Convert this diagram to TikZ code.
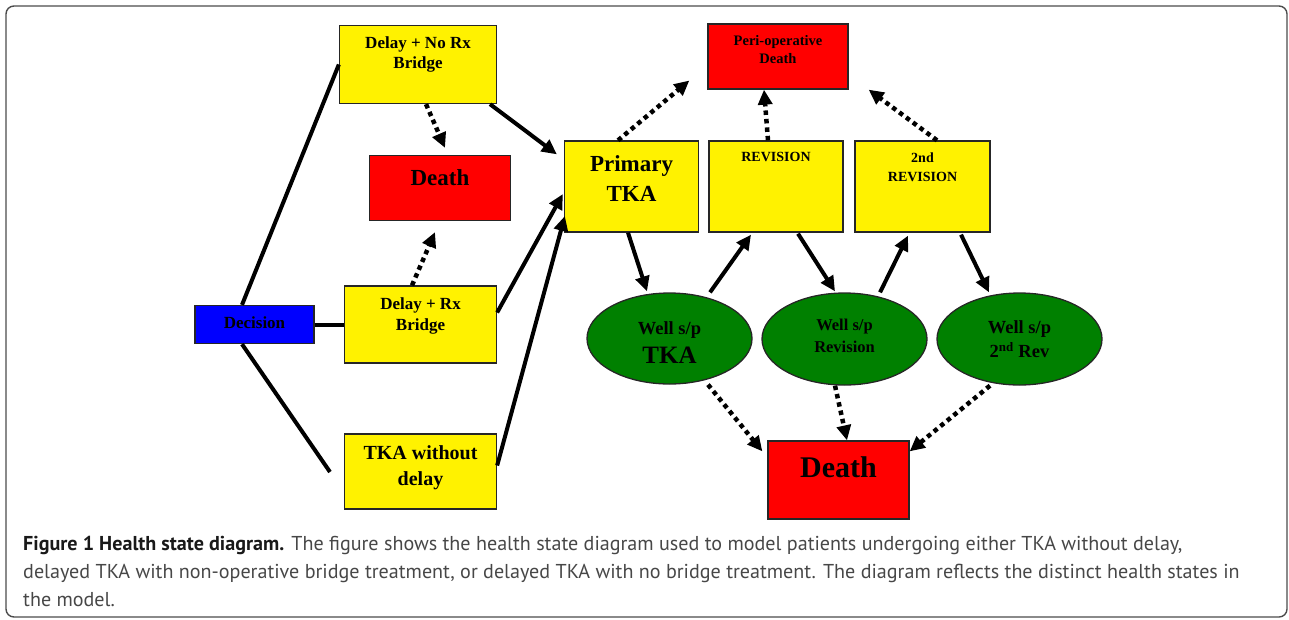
\documentclass[tikz,border=0pt]{standalone}
\usepackage{fontspec}
\setmainfont{Liberation Serif}
\newfontfamily\capfont{PT Sans}
\usetikzlibrary{arrows.meta,shapes.geometric}
\tikzset{
  box/.style={draw=black!85, line width=1.3pt, inner sep=0pt, rectangle},
  ybox/.style={box, fill=yellow},
  rbox/.style={box, fill=red},
  bbox/.style={box, fill=blue},
  gell/.style={draw=black!85, line width=1.3pt, fill=green!50!black, ellipse, inner sep=0pt},
  lbl/.style={font=\bfseries, align=center, inner sep=0pt},
  sarrow/.style={line width=4pt, -{Triangle[length=15pt,width=14pt]}},
  sline/.style={line width=4pt},
  darrow/.style={line width=4.5pt, dash pattern=on 4.5pt off 4pt, -{Triangle[length=15pt,width=14pt]}},
}
\begin{document}
\begin{tikzpicture}[x=1pt,y=-1pt]
\useasboundingbox (0,0) rectangle (1289,619);
% frame
\draw[rounded corners=8pt, line width=1.4pt, draw=black!70] (6,6) rectangle (1287,617);
% nodes
\node[ybox, minimum width=157pt, minimum height=78pt] (dnr) at (418,64.5) {};
\node[rbox, minimum width=141pt, minimum height=65pt] (d1) at (440,188) {};
\node[bbox, minimum width=119pt, minimum height=38pt] (dec) at (254.5,324.5) {};
\node[ybox, minimum width=152pt, minimum height=77pt] (drx) at (420.5,324.5) {};
\node[ybox, minimum width=152pt, minimum height=75pt] (twd) at (420.5,471.5) {};
\node[ybox, minimum width=134pt, minimum height=91pt] (ptka) at (631.5,186.5) {};
\node[ybox, minimum width=134pt, minimum height=91pt] (rev) at (776,186.5) {};
\node[ybox, minimum width=135pt, minimum height=91pt] (rev2) at (922.5,186.5) {};
\node[rbox, minimum width=140pt, minimum height=65pt] (peri) at (778,56.5) {};
\node[gell, minimum width=165pt, minimum height=91pt] (w1) at (669.5,338.5) {};
\node[gell, minimum width=165pt, minimum height=92pt] (w2) at (844.5,339) {};
\node[gell, minimum width=165pt, minimum height=92pt] (w3) at (1019.5,339) {};
\node[rbox, minimum width=141pt, minimum height=78pt] (d2) at (838.5,480) {};
% labels
\node[lbl, font=\bfseries\fontsize{17}{20}\selectfont] (dnrT) at (418,54) {Delay + No Rx\\Bridge};
\node[lbl, font=\bfseries\fontsize{23}{27}\selectfont] (d1T) at (440,178) {Death};
\node[lbl, font=\bfseries\fontsize{17}{20}\selectfont] (decT) at (254.5,323) {Decision};
\node[lbl, font=\bfseries\fontsize{17}{21}\selectfont] (drxT) at (420.5,315.5) {Delay + Rx\\Bridge};
\node[lbl, font=\bfseries\fontsize{20}{26}\selectfont] (twdT) at (420.5,468) {TKA without\\delay};
\node[lbl, font=\bfseries\fontsize{23}{30}\selectfont] (ptkaT) at (631.5,179) {Primary\\TKA};
\node[lbl, font=\bfseries\fontsize{14}{18}\selectfont] (revT) at (776,157) {REVISION};
\node[lbl, font=\bfseries\fontsize{14}{19}\selectfont] (rev2T) at (922.5,167) {2nd\\REVISION};
\node[lbl, font=\bfseries\fontsize{14.5}{18}\selectfont] (periT) at (778,50) {Peri-operative\\Death};
\node[lbl, font=\bfseries\fontsize{18.5}{29}\selectfont] (w1T) at (669.5,343) {Well s/p\\{\fontsize{25}{29}\selectfont TKA}};
\node[lbl, font=\bfseries\fontsize{16.5}{22}\selectfont] (w2T) at (844.5,336) {Well s/p\\Revision};
\node[lbl, font=\bfseries\fontsize{18.5}{24}\selectfont] (w3T) at (1019.5,339) {Well s/p\\2\textsuperscript{nd} Rev};
\node[lbl, font=\bfseries\fontsize{30}{34}\selectfont] (d2T) at (838.5,467) {Death};
% free ends
\coordinate (twdEnd) at (330,472);
\coordinate (periTip) at ([xshift=-18pt,yshift=-24pt]peri.west);
% decision branches
\draw[sline] ([xshift=-12.5pt]dec.north) -- (dnr.west);
\draw[sline] (dec.east) -- (drx.west);
\draw[sline] ([xshift=-12.5pt]dec.south) -- (twdEnd);
% solid arrows
\draw[sarrow] ([xshift=72pt]dnr.south) -- ([xshift=-7pt,yshift=-14pt]ptka.north west);
\draw[sarrow] ([yshift=12pt]drx.east) -- ([xshift=-1pt,yshift=-7.5pt]ptka.west);
\draw[sarrow] ([yshift=6pt]twd.east) -- ([xshift=1pt,yshift=-29.5pt]ptka.west);
\draw[sarrow] ([xshift=-3.5pt]ptka.south) -- ([xshift=-22.5pt,yshift=1pt]w1.north);
\draw[sarrow] ([xshift=40.5pt]w1.north) -- ([xshift=-25pt,yshift=-2pt]rev.south);
\draw[sarrow] ([xshift=22pt,yshift=-1pt]rev.south) -- ([xshift=-9.5pt,yshift=1pt]w2.north);
\draw[sarrow] ([xshift=35.5pt]w2.north) -- ([xshift=-14.5pt,yshift=-3pt]rev2.south);
\draw[sarrow] ([xshift=38.5pt,yshift=-2pt]rev2.south) -- ([xshift=-30.5pt]w3.north);
% dotted arrows
\draw[darrow] ([xshift=8pt]dnr.south) -- ([xshift=5pt,yshift=7pt]d1.north);
\draw[darrow] ([xshift=-8.5pt]drx.north) -- ([xshift=-5pt,yshift=-11pt]d1.south);
\draw[darrow] ([xshift=-13.5pt]ptka.north) -- (periTip);
\draw[darrow] ([xshift=-8pt]rev.north) -- ([xshift=-14pt]peri.south);
\draw[darrow] ([xshift=14.5pt]rev2.north) -- ([xshift=20pt]peri.south east);
\draw[darrow] ([xshift=38.5pt]w1.south) -- ([xshift=-5pt,yshift=-11pt]d2.north west);
\draw[darrow] ([xshift=-9.5pt]w2.south) -- ([xshift=8.5pt]d2.north);
\draw[darrow] ([xshift=-29.5pt]w3.south) -- ([yshift=-11pt]d2.north east);
% caption
\node[anchor=base west, inner sep=0pt, align=left, text=black!72,
      font=\capfont\fontsize{20.1}{28}\selectfont] (cap) at (23,606)
  {{\bfseries\color{black!90}Figure 1 Health state diagram.} The figure shows the health state diagram used to model patients undergoing either TKA without delay,\\
   delayed TKA with non-operative bridge treatment, or delayed TKA with no bridge treatment. The diagram reflects the distinct health states in\\
   the model.};
\end{tikzpicture}
\end{document}
